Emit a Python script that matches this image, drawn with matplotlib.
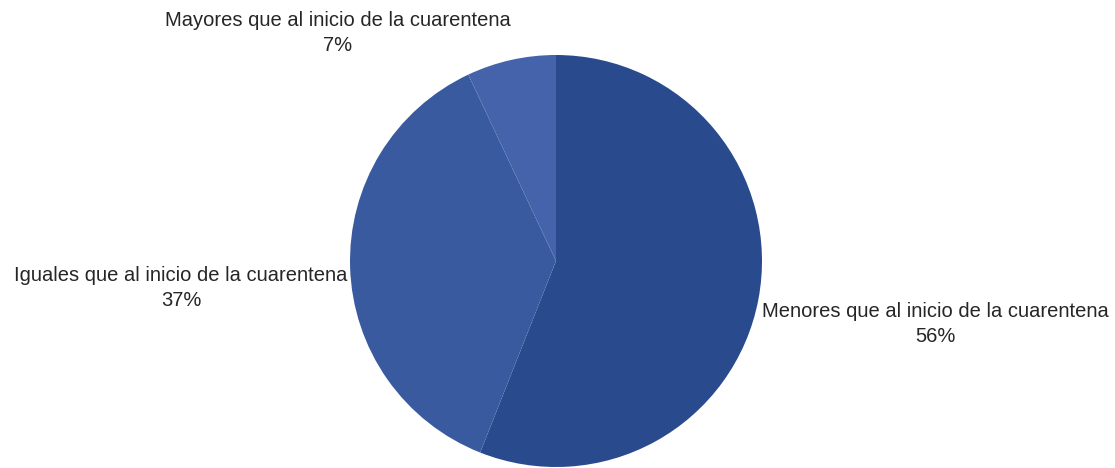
import matplotlib
matplotlib.use("Agg")
import matplotlib.pyplot as plt

# === Data ===
categories = [
    "Menores que al inicio de la cuarentena",
    "Iguales que al inicio de la cuarentena",
    "Mayores que al inicio de la cuarentena",
]
shares = [56, 37, 7]
colors = ["#2A4A8E", "#3A5AA0", "#4563AA"]

# label centres in pixel coordinates of the 1115x468 canvas
label_px = [(935, 324), (181, 288), (338, 33)]

W, H, DPI = 1115, 468, 100
CX, CY, R = 556, 261, 206

plt.rcParams.update({"font.family": ["Liberation Sans", "DejaVu Sans"]})

fig = plt.figure(figsize=(W / DPI, H / DPI), dpi=DPI)
ax = fig.add_axes([0, 0, 1, 1])

ax.pie(shares, colors=colors, startangle=90, counterclock=False,
       radius=1.0, center=(0, 0), frame=True,
       wedgeprops=dict(linewidth=0))
ax.set_xlim(-CX / R, (W - CX) / R)
ax.set_ylim(-(H - CY) / R, CY / R)
ax.set_aspect("auto")
ax.axis("off")

for name, val, (px, py) in zip(categories, shares, label_px):
    ax.text((px - CX) / R, (CY - py) / R, f"{name}\n{val}%",
            ha="center", va="center", fontsize=14.5, color="#262626",
            linespacing=1.35)

fig.savefig("out.png", dpi=DPI, facecolor="white")
